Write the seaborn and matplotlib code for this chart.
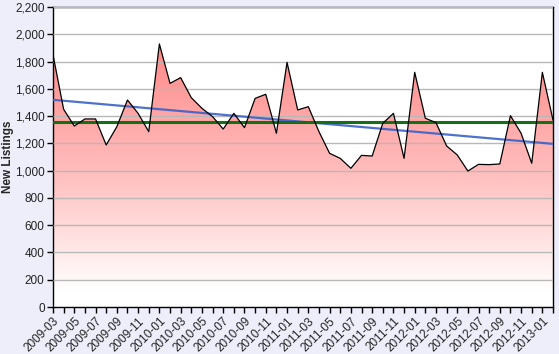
import matplotlib
matplotlib.use("Agg")
import matplotlib.pyplot as plt
import seaborn as sns
import pandas as pd
import numpy as np
from matplotlib.colors import LinearSegmentedColormap
from matplotlib.ticker import FuncFormatter, MultipleLocator

months = pd.date_range("2009-03-01", "2013-02-01", freq="MS").strftime("%Y-%m").tolist()
listings = [1850, 1450, 1327, 1379, 1379, 1188, 1322, 1518, 1420, 1286,
            1929, 1640, 1682, 1535, 1457, 1396, 1305, 1420, 1315, 1530,
            1560, 1274, 1794, 1445, 1469, 1286, 1127, 1090, 1017, 1112,
            1107, 1347, 1420, 1090, 1721, 1384, 1352, 1181, 1115, 997,
            1046, 1044, 1049, 1403, 1274, 1054, 1721, 1371]

df = pd.DataFrame({"month": months, "listings": listings})
df["idx"] = np.arange(len(df))

sns.set_style("white")
plt.rcParams["font.family"] = ["Liberation Sans", "DejaVu Sans"]

fig = plt.figure(figsize=(5.59, 3.54), dpi=100, facecolor="#EEEEFA")
ax = fig.add_axes([53 / 559, 47 / 354, 500 / 559, 300 / 354])
ax.set_facecolor("white")

x = df["idx"].values
y = df["listings"].values

# gradient fill under the line
cmap = LinearSegmentedColormap.from_list(
    "redfade", [(0, "#FFFFFF"), (0.05, "#FFFFFF"), (0.45, "#FFBDBD"), (1, "#FF7A7A")])
grad = np.linspace(0, 1, 256).reshape(-1, 1)
img = ax.imshow(grad, cmap=cmap, aspect="auto", origin="lower",
                extent=[0, len(x) - 1, 0, 2200], zorder=1)
poly = ax.fill_between(x, 0, y, color="none")
clip = poly.get_paths()[0]
img.set_clip_path(clip, transform=ax.transData)

ax.yaxis.grid(True, color="#B8B8B8", linewidth=1, zorder=2)
ax.set_axisbelow(False)

sns.lineplot(data=df, x="idx", y="listings", color="black", linewidth=0.9, ax=ax, zorder=5)

# trend and average
slope, inter = np.polyfit(x, y, 1)
ax.plot(x, slope * x + inter, color="#3A62C8", linewidth=1.6, alpha=0.9, zorder=4)
ax.axhline(np.mean(y), color="#157015", linewidth=2.2, zorder=4)

ax.set_xlim(0, len(x) - 1)
ax.set_ylim(0, 2200)
ax.yaxis.set_major_locator(MultipleLocator(200))
ax.yaxis.set_major_formatter(FuncFormatter(lambda v, p: f"{int(v):,}"))
ax.set_xticks(x, minor=True)
ax.set_xticks(x[::2])
ax.set_xticklabels(df["month"].values[::2], rotation=45, ha="right", rotation_mode="anchor")
ax.tick_params(axis="both", which="both", direction="out", length=4, width=1,
               color="black", labelsize=8.5, labelcolor="#222222", pad=2)
ax.tick_params(axis="y", left=True)
ax.tick_params(axis="x", which="both", bottom=True)
for s in ax.spines.values():
    s.set_color("black")
    s.set_linewidth(1)
ax.set_xlabel("")
ax.set_ylabel("New Listings", fontsize=8.5, fontweight="bold")
ax.yaxis.set_label_coords(-0.078, 0.5)

fig.savefig("out.png", dpi=100, facecolor=fig.get_facecolor())
